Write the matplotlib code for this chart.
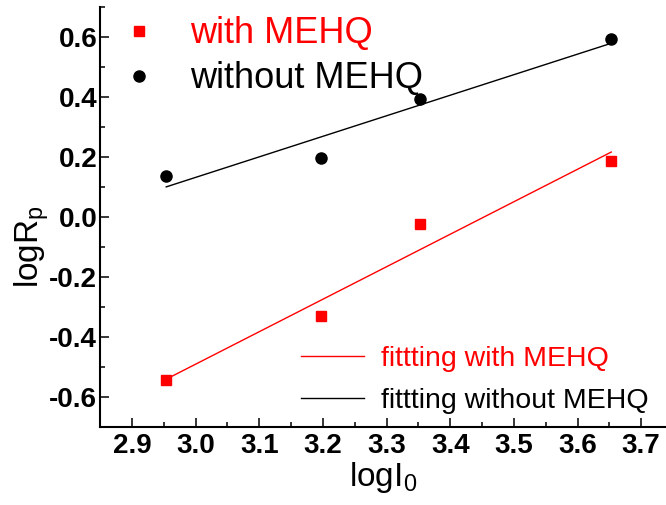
import matplotlib
matplotlib.use('Agg')
import matplotlib.pyplot as plt
import numpy as np
from matplotlib.ticker import MultipleLocator, FormatStrFormatter

plt.rcParams['font.family'] = ['Liberation Sans', 'DejaVu Sans']
plt.rcParams['mathtext.fontset'] = 'custom'
plt.rcParams['mathtext.rm'] = 'Liberation Sans'
plt.rcParams['mathtext.it'] = 'Liberation Sans'

# data
logI0 = [2.954, 3.197, 3.353, 3.653]
with_mehq = [-0.543, -0.330, -0.023, 0.186]
without_mehq = [0.137, 0.198, 0.393, 0.592]

fig = plt.figure(figsize=(6.66, 5.05), dpi=100)
ax = fig.add_axes([100/666, 78/505, 566/666, 420/505])

# linear fits
p_with = np.polyfit(logI0, with_mehq, 1)
p_without = np.polyfit(logI0, without_mehq, 1)
xfit = np.array([min(logI0), max(logI0)])

s1, = ax.plot(logI0, with_mehq, 's', color='red', markersize=7, label='with MEHQ')
s2, = ax.plot(logI0, without_mehq, 'o', color='black', markersize=8, label='without MEHQ')
f1, = ax.plot(xfit, np.polyval(p_with, xfit), '-', color='red', lw=1, label='fittting with MEHQ')
f2, = ax.plot(xfit, np.polyval(p_without, xfit), '-', color='black', lw=1, label='fittting without MEHQ')

ax.set_xlim(2.85, 3.739)
ax.set_ylim(-0.7, 0.7)
ax.xaxis.set_major_locator(MultipleLocator(0.1))
ax.xaxis.set_minor_locator(MultipleLocator(0.05))
ax.yaxis.set_major_locator(MultipleLocator(0.2))
ax.yaxis.set_minor_locator(MultipleLocator(0.1))
ax.xaxis.set_major_formatter(FormatStrFormatter('%.1f'))
ax.yaxis.set_major_formatter(FormatStrFormatter('%.1f'))

for side in ['top', 'right']:
    ax.spines[side].set_visible(False)
for side in ['left', 'bottom']:
    ax.spines[side].set_linewidth(1.5)

ax.tick_params(which='major', direction='in', length=6.5, width=1.1, labelsize=20)
ax.tick_params(which='minor', direction='in', length=3.6, width=1.1)
ax.tick_params(axis='x', which='major', pad=4)
ax.tick_params(axis='y', which='major', pad=2)
for lab in ax.get_xticklabels() + ax.get_yticklabels():
    lab.set_fontweight('bold')

ax.set_xlabel(r'logI$_\mathregular{0}$', fontsize=24, labelpad=1)
ax.set_ylabel(r'logR$_\mathregular{p}$', fontsize=24)
ax.yaxis.set_label_coords(-0.087, 0.43)

leg1 = ax.legend(handles=[s1, s2], loc='upper left', bbox_to_anchor=(0.032, 0.978),
                 frameon=False, fontsize=26, handlelength=1.15, handletextpad=0.85,
                 labelspacing=0.28, borderpad=0, borderaxespad=0)
leg1.get_texts()[0].set_color('red')
ax.add_artist(leg1)

leg2 = ax.legend(handles=[f1, f2], loc='upper left', bbox_to_anchor=(0.356, 0.193),
                 frameon=False, fontsize=20.5, handlelength=2.2, handletextpad=0.58,
                 labelspacing=0.58, borderpad=0, borderaxespad=0)
leg2.get_texts()[0].set_color('red')

fig.savefig('out.png', dpi=100)
